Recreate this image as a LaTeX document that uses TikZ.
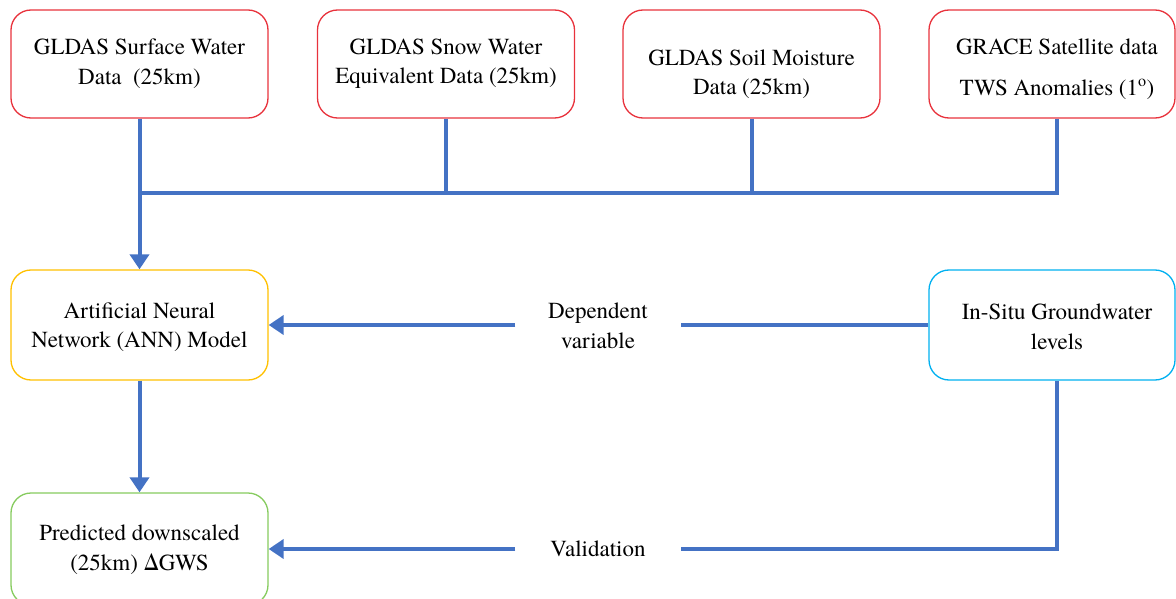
\documentclass[tikz,border=0pt]{standalone}
\usepackage{fontspec}
\setmainfont{texgyretermes-regular.otf}
\usetikzlibrary{arrows.meta}
\definecolor{flow}{HTML}{4472C4}
\definecolor{boxred}{HTML}{E8323C}
\definecolor{boxyellow}{HTML}{FFC000}
\definecolor{boxcyan}{HTML}{00B0F0}
\definecolor{boxgreen}{HTML}{86CB5E}
\begin{document}
\begin{tikzpicture}[x=1pt,y=-1pt,
  box/.style={draw=#1, line width=1.3pt, rounded corners=20pt, minimum width=257pt, minimum height=108pt, inner sep=0pt},
  txt/.style={font=\fontsize{23}{29.5}\selectfont, align=center, inner sep=0pt},
  conn/.style={draw=flow, line width=4pt},
  arr/.style={conn, -{Triangle[length=15pt,width=19pt]}}]
\useasboundingbox (0,0) rectangle (1176,599);
% top boxes
\node[box=boxred] (b1) at (139.5,64) {};
\node[box=boxred] (b2) at (446,64) {};
\node[box=boxred] (b3) at (751.5,64) {};
\node[box=boxred, minimum width=246pt] (b4) at (1052,64) {};
\node[txt] (t1) at (139.5,63.5) {GLDAS Surface Water\\Data~~(25km)};
\node[txt] (t2) at (446,63.5) {GLDAS Snow Water\\Equivalent Data (25km)};
\node[txt] (t3) at (751.5,74) {GLDAS Soil Moisture\\Data (25km)};
\node[txt] (t4) at (1057,69) {GRACE Satellite data\\[12pt]TWS Anomalies (1\textsuperscript{o})};
% middle / bottom boxes
\node[box=boxyellow, minimum height=110pt] (ann) at (139.5,325) {};
\node[txt] (tann) at (139.5,327) {Artificial Neural\\Network (ANN) Model};
\node[box=boxcyan, minimum width=246pt, minimum height=110pt] (ins) at (1052,325) {};
\node[txt] (tins) at (1057,327) {In-Situ Groundwater\\levels};
\node[box=boxgreen, minimum height=112pt] (pred) at (139.5,549) {};
\node[txt] (tpred) at (139.5,549.5) {Predicted downscaled\\(25km) ΔGWS};
% labels
\node[txt, minimum width=165pt] (dep) at (598,326) {Dependent\\variable};
\node[txt, minimum width=165pt] (val) at (598,549) {Validation};
% connectors
\coordinate (busL) at (139.5,193);
\draw[conn] ([xshift=5pt]b4.south) |- (busL);
\draw[conn] (b2.south) -- (b2.south |- busL);
\draw[conn] (b3.south) -- (b3.south |- busL);
\draw[arr] (b1.south) -- (ann.north);
\draw[arr] (ann.south) -- (pred.north);
\draw[conn] (ins.west) -- (ins.west -| dep.east);
\draw[arr] (ins.west -| dep.west) -- (ann.east);
\draw[conn] ([xshift=5pt]ins.south) |- (val.east);
\draw[arr] (val.west) -- (pred.east);
\end{tikzpicture}
\end{document}
